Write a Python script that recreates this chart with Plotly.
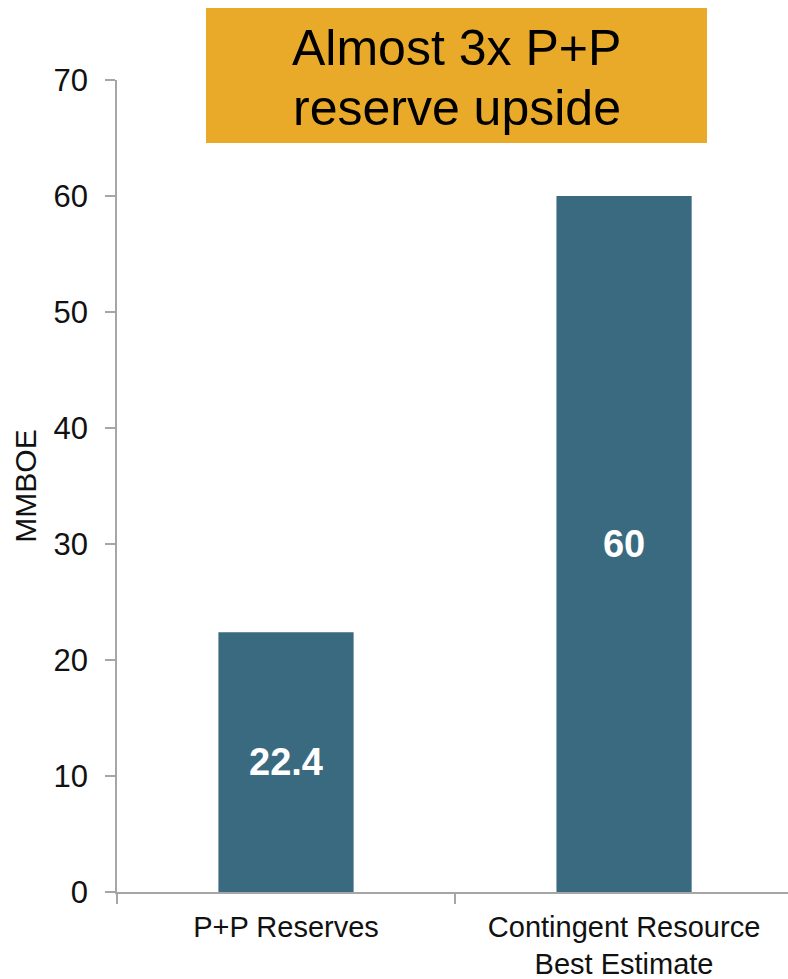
import plotly.graph_objects as go

categories = ["P+P Reserves", "Contingent Resource<br>Best Estimate"]
values = [22.4, 60]
value_labels = ["22.4", "60"]
y_ticks = [0, 10, 20, 30, 40, 50, 60, 70]
title_lines = ["Almost 3x P+P", "reserve upside"]

BAR = "#3A6A80"
GOLD = "#E9AA2A"
AXIS = "#A6A6A6"
FONT = "Liberation Sans, Arial, sans-serif"

fig = go.Figure(
    go.Bar(
        x=categories,
        y=values,
        text=value_labels,
        textposition="inside",
        insidetextanchor="middle",
        textangle=0,
        textfont=dict(family=FONT, size=38, color="white", weight="bold"),
        marker=dict(color=BAR, line=dict(width=0)),
        width=0.4,
        cliponaxis=False,
    )
)

fig.update_layout(
    width=788,
    height=979,
    margin=dict(l=117, r=0, t=80, b=87),
    paper_bgcolor="white",
    plot_bgcolor="white",
    showlegend=False,
    font=dict(family=FONT, color="#111111"),
)

fig.update_xaxes(
    type="category",
    range=[-0.5, 1.485],
    tickson="boundaries",
    ticks="outside",
    ticklen=10,
    tickwidth=1.5,
    tickcolor=AXIS,
    showline=True,
    linecolor=AXIS,
    linewidth=1.5,
    showgrid=False,
    automargin=False,
    tickfont=dict(family=FONT, size=29, color="#111111"),
    ticklabelstandoff=8,
)

fig.update_yaxes(
    range=[0, 70],
    tickvals=y_ticks,
    ticks="outside",
    ticklen=10,
    tickwidth=1.5,
    tickcolor=AXIS,
    showline=True,
    linecolor=AXIS,
    linewidth=1.5,
    showgrid=False,
    zeroline=False,
    automargin=False,
    tickfont=dict(family=FONT, size=31, color="#111111"),
    ticklabelstandoff=11,
    title=dict(text="MMBOE", font=dict(family=FONT, size=30, color="#111111"), standoff=8),
)

# title box
fig.add_shape(
    type="rect",
    xref="paper", yref="paper",
    x0=0.1326, x1=0.8793, y0=0.9224, y1=1.0887,
    fillcolor=GOLD, line=dict(width=0), layer="above",
)
for line_text, ypos in zip(title_lines, [1.0394, 0.9655]):
    fig.add_annotation(
        xref="paper", yref="paper",
        x=0.506, y=ypos,
        xanchor="center", yanchor="middle",
        text=line_text,
        showarrow=False,
        font=dict(family=FONT, size=50, color="#000000"),
    )

fig.write_html(
    "out.html",
    config={"displayModeBar": False},
    post_script="document.body.style.margin='0';",
)
